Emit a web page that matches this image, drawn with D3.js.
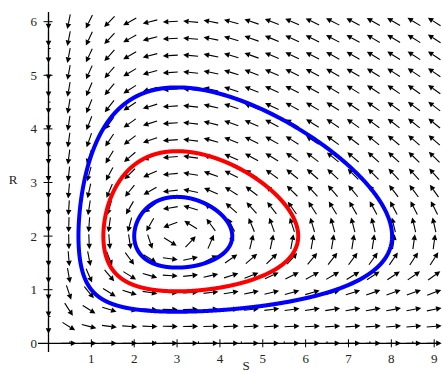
<!DOCTYPE html>
<html>
<head>
<meta charset="utf-8">
<script src="https://cdn.jsdelivr.net/npm/d3@7"></script>
<style>
  body { margin: 0; background: #fff; }
  svg { display: block; }
  .tick-label { font-family: "Liberation Serif", "DejaVu Serif", serif; font-size: 13px; fill: #222; }
</style>
</head>
<body>
<script>
// model: dS/dt = S*(a - b*R), dR/dt = R*(d*S - c)
const rates = [2, 1, 1.5, 0.5];          // a, b, c, d
const sRange = [0, 9];
const rRange = [0, 6];
const gridCount = [20, 20];
const orbitStarts = [[1, 1], [1.28, 2], [2, 2]];
const orbitColors = ['#0000ff', '#ff0000', '#0000ff'];
const sTicks = [1, 2, 3, 4, 5, 6, 7, 8, 9];
const rTicks = [0, 1, 2, 3, 4, 5, 6];

const width = 442, height = 374;

const x = d3.scaleLinear().domain(sRange).range([48.5, 434.2]);
const y = d3.scaleLinear().domain(rRange).range([343.3, 21.7]);

const svg = d3.select('body').append('svg')
  .attr('width', width)
  .attr('height', height);

function field(S, R) {
  const [a, b, c, d] = rates;
  return [S * (a - b * R), R * (d * S - c)];
}

// direction field ---------------------------------------------------------
const arrowLen = 15, headLen = 5.5, headHalf = 2.8;
const gridPts = [];
for (let i = 0; i < gridCount[0]; i++) {
  for (let j = 0; j < gridCount[1]; j++) {
    const S = sRange[0] + i * (sRange[1] - sRange[0]) / (gridCount[0] - 1);
    const R = rRange[0] + j * (rRange[1] - rRange[0]) / (gridCount[1] - 1);
    gridPts.push([S, R]);
  }
}

const arrows = svg.append('g').attr('class', 'arrows');
gridPts.forEach(p => {
  const v = field(p[0], p[1]);
  // vector in pixel space
  let px = x(p[0] + v[0]) - x(p[0]);
  let py = y(p[1] + v[1]) - y(p[1]);
  const m = Math.hypot(px, py);
  if (m < 1e-9) return;
  px /= m; py /= m;
  const cx = x(p[0]), cy = y(p[1]);
  const tx = cx - px * arrowLen / 2, ty = cy - py * arrowLen / 2;
  const hx = cx + px * arrowLen / 2, hy = cy + py * arrowLen / 2;
  const bx = hx - px * headLen, by = hy - py * headLen;
  arrows.append('line')
    .attr('x1', tx).attr('y1', ty)
    .attr('x2', bx).attr('y2', by)
    .attr('stroke', '#000')
    .attr('stroke-width', 1.1);
  arrows.append('path')
    .attr('d', 'M' + hx + ',' + hy
      + 'L' + (bx - py * headHalf) + ',' + (by + px * headHalf)
      + 'L' + (bx + py * headHalf) + ',' + (by - px * headHalf) + 'Z')
    .attr('fill', '#000');
});

// axes --------------------------------------------------------------------
const ax = svg.append('g').attr('class', 'axes');
ax.append('line')
  .attr('x1', 38).attr('x2', 440)
  .attr('y1', y(0)).attr('y2', y(0))
  .attr('stroke', '#000').attr('stroke-width', 1.3);
ax.append('line')
  .attr('x1', x(0)).attr('x2', x(0))
  .attr('y1', 352).attr('y2', 12)
  .attr('stroke', '#000').attr('stroke-width', 1.3);

// major and minor ticks
d3.range(0.5, 9.1, 0.5).forEach(t => {
  const major = Math.abs(t - Math.round(t)) < 1e-6;
  ax.append('line')
    .attr('x1', x(t)).attr('x2', x(t))
    .attr('y1', y(0) - (major ? 4 : 2)).attr('y2', y(0) + (major ? 4 : 0))
    .attr('stroke', '#000').attr('stroke-width', 1);
});
d3.range(0.5, 6.1, 0.5).forEach(t => {
  const major = Math.abs(t - Math.round(t)) < 1e-6;
  ax.append('line')
    .attr('x1', x(0) - (major ? 5 : 0)).attr('x2', x(0) + (major ? 4 : 2))
    .attr('y1', y(t)).attr('y2', y(t))
    .attr('stroke', '#000').attr('stroke-width', 1);
});

ax.selectAll('text.sx')
  .data(sTicks)
  .enter().append('text')
  .attr('class', 'tick-label')
  .attr('x', d => x(d))
  .attr('y', 363)
  .attr('text-anchor', 'middle')
  .text(d => d);

ax.selectAll('text.ry')
  .data(rTicks)
  .enter().append('text')
  .attr('class', 'tick-label')
  .attr('x', 37)
  .attr('y', d => y(d) + 4.5)
  .attr('text-anchor', 'end')
  .text(d => d);

svg.append('text')
  .attr('class', 'tick-label')
  .attr('x', 246)
  .attr('y', 370)
  .attr('text-anchor', 'middle')
  .text('S');

svg.append('text')
  .attr('class', 'tick-label')
  .attr('x', 13)
  .attr('y', 184)
  .attr('text-anchor', 'middle')
  .text('R');

// orbits (RK4) ------------------------------------------------------------
function orbit(start) {
  const pts = [start.slice()];
  let s = start[0], r = start[1];
  const dt = 0.004, steps = 3000;
  for (let k = 0; k < steps; k++) {
    const k1 = field(s, r);
    const k2 = field(s + dt / 2 * k1[0], r + dt / 2 * k1[1]);
    const k3 = field(s + dt / 2 * k2[0], r + dt / 2 * k2[1]);
    const k4 = field(s + dt * k3[0], r + dt * k3[1]);
    s += dt / 6 * (k1[0] + 2 * k2[0] + 2 * k3[0] + k4[0]);
    r += dt / 6 * (k1[1] + 2 * k2[1] + 2 * k3[1] + k4[1]);
    pts.push([s, r]);
  }
  return pts;
}

const line = d3.line()
  .x(d => x(d[0]))
  .y(d => y(d[1]))
  .curve(d3.curveLinear);

svg.append('g').attr('class', 'orbits')
  .selectAll('path')
  .data(orbitStarts)
  .enter().append('path')
  .attr('d', d => line(orbit(d)))
  .attr('fill', 'none')
  .attr('stroke', (d, i) => orbitColors[i])
  .attr('stroke-width', 4)
  .attr('stroke-linejoin', 'round');
</script>
</body>
</html>
